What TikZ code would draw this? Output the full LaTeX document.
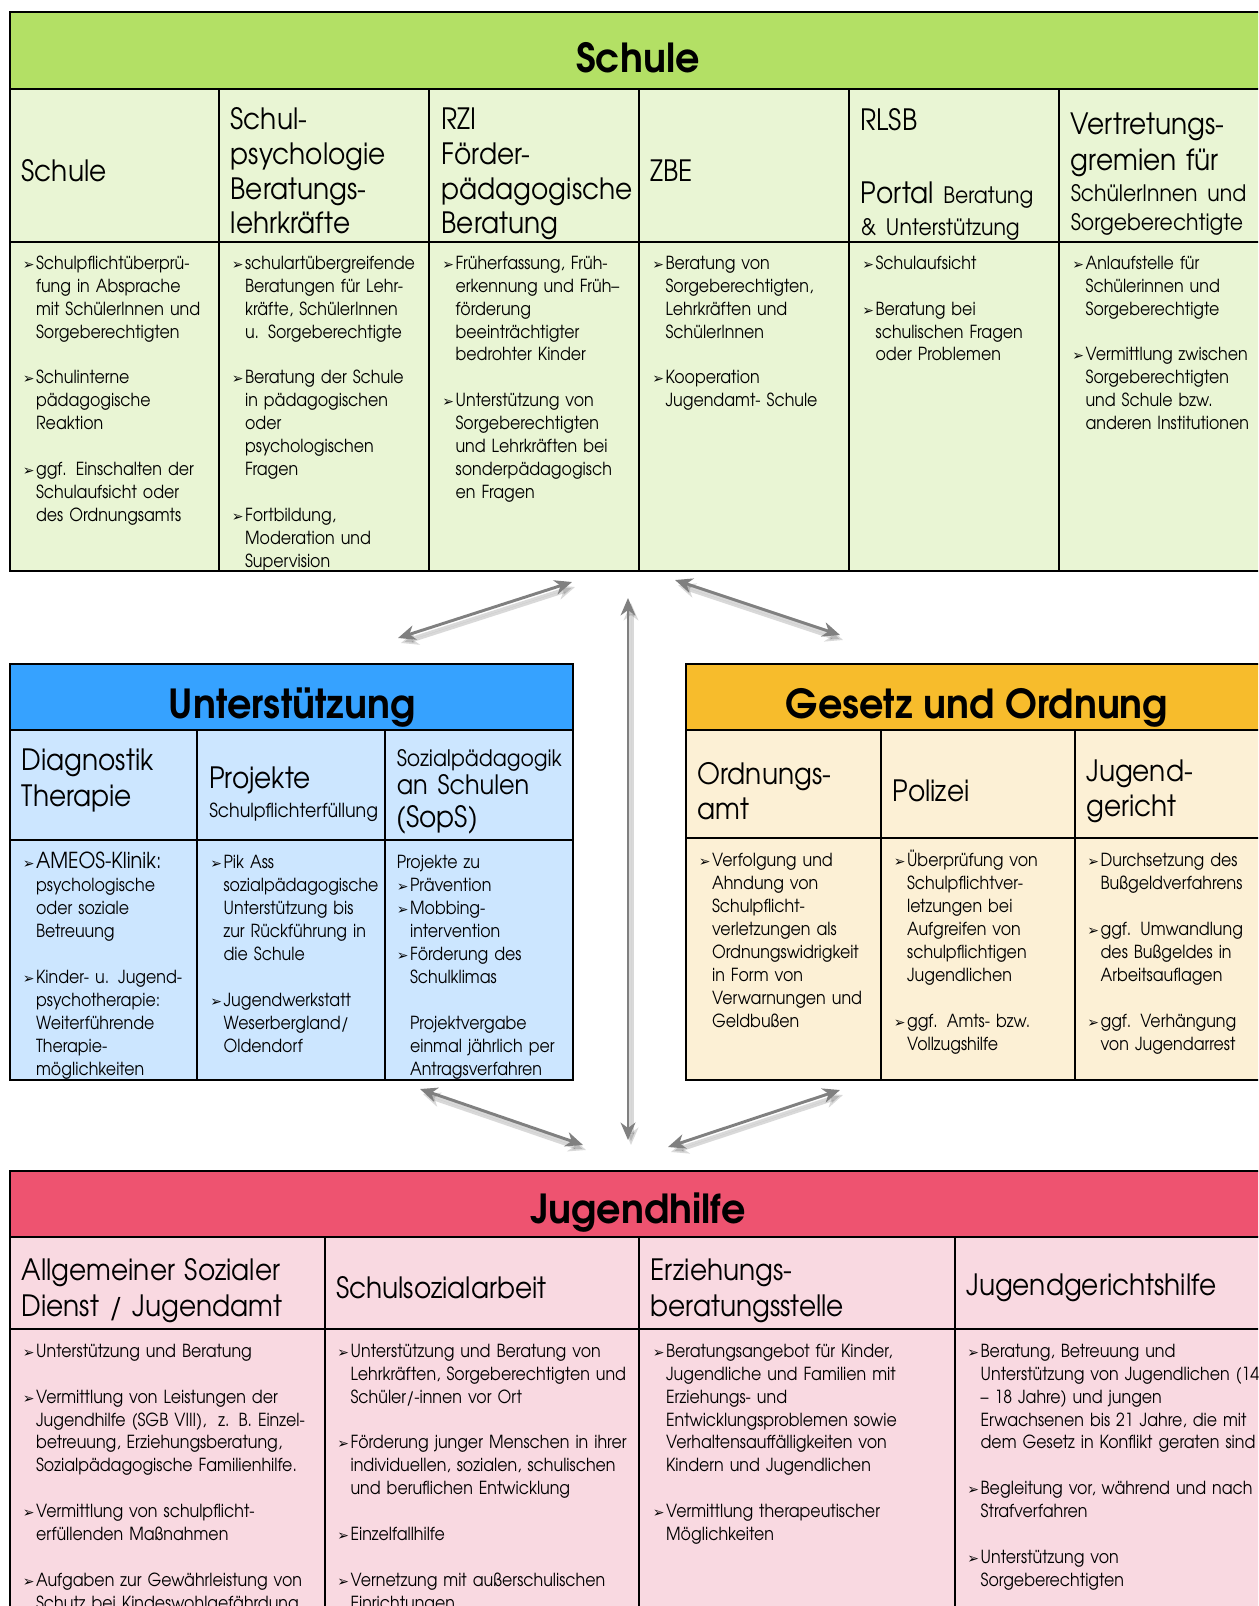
\documentclass[tikz,border=0pt]{standalone}
\usepackage{fontspec}
\setmainfont{texgyreadventor}[Extension=.otf, UprightFont=*-regular, BoldFont=*-bold, ItalicFont=*-italic, BoldItalicFont=*-bolditalic, FakeStretch=0.9, WordSpace=0.9]
\newfontfamily\titlefont{texgyreadventor}[Extension=.otf, UprightFont=*-bold, FakeStretch=0.955]
\newfontfamily\cellfont{texgyreadventor}[Extension=.otf, UprightFont=*-regular, FakeStretch=0.88, WordSpace=0.8]
\newfontfamily\dejavu{DejaVu Sans}
\usepackage{xcolor}
\usetikzlibrary{arrows.meta}
\definecolor{schulhead}{HTML}{B3E065}
\definecolor{schulcell}{HTML}{E9F5D4}
\definecolor{unterhead}{HTML}{36A2FF}
\definecolor{untercell}{HTML}{CCE6FF}
\definecolor{gesetzhead}{HTML}{F7BC2C}
\definecolor{gesetzcell}{HTML}{FCF0D5}
\definecolor{jugendhead}{HTML}{EE5370}
\definecolor{jugendcell}{HTML}{F9D9E1}
\definecolor{arrowgray}{HTML}{808080}
\newlength{\bulwd}
\setlength{\bulwd}{10pt}
\newcommand{\bul}{{\dejavu\fontsize{10.5}{10.5}\selectfont ➢}}
\newcommand{\nxt}{\newline}
\newcommand{\itm}{\par\hangindent=\bulwd\hangafter=1\noindent\strut\makebox[\bulwd][l]{\bul}}
\newcommand{\itmflat}{\par\noindent\strut}
\newcommand{\itmhang}{\par\hangindent=\bulwd\hangafter=0\noindent\strut}
\newcommand{\gap}{\par\vspace{\baselineskip}}
\newcommand{\smallhead}{\fontsize{17}{20}\selectfont}

\begin{document}
\begin{tikzpicture}[x=0.75pt, y=-0.75pt,
  boxline/.style={line width=1.5pt},
  cellline/.style={line width=1pt},
  title/.style={anchor=base, font=\titlefont\fontsize{30}{34}\selectfont},
  head/.style={anchor=west, inner sep=0pt, text width=200pt, align=left, font=\fontsize{22}{26}\selectfont},
  cell/.style={anchor=north west, inner sep=0pt, text width=250pt, align=left, font=\cellfont\fontsize{13.5}{17.2}\selectfont},
  twoway/.style={{Stealth[length=13pt,width=11pt,inset=4pt]}-{Stealth[length=13pt,width=11pt,inset=4pt]}, line width=2.2pt, draw=arrowgray, fill=arrowgray},
  twowayshade/.style={twoway, draw=black, fill=black, opacity=.15, line width=4pt, transform canvas={shift={(3,5)}}}
]
\useasboundingbox (0,0) rectangle (1258,1606);
\clip (0,0) rectangle (1258,1606);

% Schule
\fill[schulcell] (10,12) rectangle (1268,571);
\fill[schulhead] (10,12) rectangle (1268,89);
\draw[cellline] (10,89) -- (1268,89) (10,242) -- (1268,242);
\foreach \x in {219,429,639,849,1059} \draw[cellline] (\x,89) -- (\x,571);
\draw[boxline] (10,12) rectangle (1268,571);
\node[title] (schule) at (638,72) {Schule};

\node[head] (s1h) at (21.5,171) {Schule};
\node[head] (s2h) at (230.5,171) {Schul-\par psychologie\par Beratungs-\par lehrkräfte\par};
\node[head] (s3h) at (441.5,174) {RZI\par Förder-\par pädagogische\par Beratung\par};
\node[head] (s4h) at (650.5,171) {ZBE};
\node[head] (s5h) at (860.5,120) {RLSB};
\node[head] (s5g) at (860.5,211) {Portal {\smallhead Beratung}\par\fontsize{17}{23.8}\selectfont\& Unterstützung\par};
\node[head] (s6h) at (1070.5,174) {Vertretungs-\par\fontsize{22}{27}\selectfont gremien für\par\fontsize{17}{23}\selectfont SchülerInnen und\par\fontsize{17}{22}\selectfont Sorgeberechtigte\par};

\node[cell] (s1b) at (22.5,246) {\itm Schulpflichtüberprü-\nxt fung in Absprache\nxt mit SchülerInnen und\nxt Sorgeberechtigten
\gap\itm Schulinterne\nxt pädagogische\nxt Reaktion
\gap\itm ggf. Einschalten der\nxt Schulaufsicht oder\nxt des Ordnungsamts\par};
\node[cell] (s2b) at (231.5,246) {\itm schulartübergreifende\nxt Beratungen für Lehr-\nxt kräfte, SchülerInnen\nxt u. Sorgeberechtigte
\gap\itm Beratung der Schule\nxt in pädagogischen\nxt oder\nxt psychologischen\nxt Fragen
\gap\itm Fortbildung,\nxt Moderation und\nxt Supervision\par};
\node[cell] (s3b) at (442,246) {\itm Früherfassung, Früh-\nxt erkennung und Früh–\nxt förderung\nxt beeinträchtigter\nxt bedrohter Kinder
\gap\itm Unterstützung von\nxt Sorgeberechtigten\nxt und Lehrkräften bei\nxt sonderpädagogisch\nxt en Fragen\par};
\node[cell] (s4b) at (652,246) {\itm Beratung von\nxt Sorgeberechtigten,\nxt Lehrkräften und\nxt SchülerInnen
\gap\itm Kooperation\nxt Jugendamt- Schule\par};
\node[cell] (s5b) at (862,246) {\itm Schulaufsicht
\gap\itm Beratung bei\nxt schulischen Fragen\nxt oder Problemen\par};
\node[cell] (s6b) at (1072,246) {\itm Anlaufstelle für\nxt Schülerinnen und\nxt Sorgeberechtigte
\gap\itm Vermittlung zwischen\nxt Sorgeberechtigten\nxt und Schule bzw.\nxt anderen Institutionen\par};

% Unterstuetzung
\fill[untercell] (10,664) rectangle (573,1080);
\fill[unterhead] (10,664) rectangle (573,730);
\draw[cellline] (10,730) -- (573,730) (10,840) -- (573,840);
\foreach \x in {197,385} \draw[cellline] (\x,730) -- (\x,1080);
\draw[boxline] (10,664) rectangle (573,1080);
\node[title] (unter) at (292,718) {Unterstützung};

\node[head, font=\fontsize{22}{27}\selectfont] (u1h) at (21.5,780) {Diagnostik\par Therapie\par};
\node[head] (u2h) at (209,794) {Projekte\par\fontsize{14.5}{22}\selectfont Schulpflichterfüllung\par};
\node[head] (u3h) at (396.5,792) {\smallhead Sozialpädagogik\par\fontsize{20}{20.8}\selectfont an Schulen\par\fontsize{22}{24.6}\selectfont (SopS)\par};

\node[cell] (u1b) at (22.5,845.5) {\itm{\fontsize{16.5}{17.2}\selectfont AMEOS-Klinik:}\nxt psychologische\nxt oder soziale\nxt Betreuung
\gap\itm Kinder- u. Jugend-\nxt psychotherapie:\nxt Weiterführende\nxt Therapie-\nxt möglichkeiten\par};
\node[cell] (u2b) at (210,845.5) {\itm Pik Ass\nxt sozialpädagogische\nxt Unterstützung bis\nxt zur Rückführung in\nxt die Schule
\gap\itm Jugendwerkstatt\nxt Weserbergland/\nxt Oldendorf\par};
\node[cell] (u3b) at (396.5,845.5) {\itmflat Projekte zu
\itm Prävention
\itm Mobbing-\nxt intervention
\itm Förderung des\nxt Schulklimas
\gap\itmhang Projektvergabe\nxt einmal jährlich per\nxt Antragsverfahren\par};

% Gesetz und Ordnung
\fill[gesetzcell] (686,664) rectangle (1268,1080);
\fill[gesetzhead] (686,664) rectangle (1268,730);
\draw[cellline] (686,730) -- (1268,730) (686,838) -- (1268,838);
\foreach \x in {881,1075} \draw[cellline] (\x,730) -- (\x,1080);
\draw[boxline] (686,664) rectangle (1268,1080);
\node[title] (gesetz) at (977,718) {Gesetz und Ordnung};

\node[head] (g1h) at (697.5,791) {Ordnungs-\par amt\par};
\node[head] (g2h) at (892.5,791) {Polizei};
\node[head] (g3h) at (1086,791) {Jugend-\par gericht\par};

\node[cell] (g1b) at (698.5,843.5) {\itm Verfolgung und\nxt Ahndung von\nxt Schulpflicht-\nxt verletzungen als\nxt Ordnungswidrigkeit\nxt in Form von\nxt Verwarnungen und\nxt Geldbußen\par};
\node[cell] (g2b) at (893.5,843.5) {\itm Überprüfung von\nxt Schulpflichtver-\nxt letzungen bei\nxt Aufgreifen von\nxt schulpflichtigen\nxt Jugendlichen
\gap\itm ggf. Amts- bzw.\nxt Vollzugshilfe\par};
\node[cell] (g3b) at (1087,843.5) {\itm Durchsetzung des\nxt Bußgeldverfahrens
\gap\itm ggf. Umwandlung\nxt des Bußgeldes in\nxt Arbeitsauflagen
\gap\itm ggf. Verhängung\nxt von Jugendarrest\par};

% Jugendhilfe
\fill[jugendcell] (10,1171) rectangle (1268,1620);
\fill[jugendhead] (10,1171) rectangle (1268,1237);
\draw[cellline] (10,1237) -- (1268,1237) (10,1329) -- (1268,1329);
\foreach \x in {325,639,955} \draw[cellline] (\x,1237) -- (\x,1620);
\draw[boxline] (10,1171) rectangle (1268,1620);
\node[title] (jugend) at (638,1223) {Jugendhilfe};

\node[head, font=\fontsize{22}{27}\selectfont] (j1h) at (21.5,1291) {Allgemeiner Sozialer\par Dienst / Jugendamt\par};
\node[head] (j2h) at (336,1288) {Schulsozialarbeit};
\node[head, font=\fontsize{22}{27}\selectfont] (j3h) at (650.5,1291) {Erziehungs-\par beratungsstelle\par};
\node[head] (j4h) at (966,1288) {Jugendgerichtshilfe};

\node[cell] (j1b) at (22.5,1334) {\itm Unterstützung und Beratung
\gap\itm Vermittlung von Leistungen der\nxt Jugendhilfe (SGB VIII), \ z. B. Einzel-\nxt betreuung, Erziehungsberatung,\nxt Sozialpädagogische Familienhilfe.
\gap\itm Vermittlung von schulpflicht-\nxt erfüllenden Maßnahmen
\gap\itm Aufgaben zur Gewährleistung von\nxt Schutz bei Kindeswohlgefährdung\par};
\node[cell] (j2b) at (337,1334) {\itm Unterstützung und Beratung von\nxt Lehrkräften, Sorgeberechtigten und\nxt Schüler/-innen vor Ort
\gap\itm Förderung junger Menschen in ihrer\nxt individuellen, sozialen, schulischen\nxt und beruflichen Entwicklung
\gap\itm Einzelfallhilfe
\gap\itm Vernetzung mit außerschulischen\nxt Einrichtungen\par};
\node[cell] (j3b) at (652.5,1334) {\itm Beratungsangebot für Kinder,\nxt Jugendliche und Familien mit\nxt Erziehungs- und\nxt Entwicklungsproblemen sowie\nxt Verhaltensauffälligkeiten von\nxt Kindern und Jugendlichen
\gap\itm Vermittlung therapeutischer\nxt Möglichkeiten\par};
\node[cell] (j4b) at (967,1334) {\itm Beratung, Betreuung und\nxt Unterstützung von Jugendlichen (14\nxt – 18 Jahre) und jungen\nxt Erwachsenen bis 21 Jahre, die mit\nxt dem Gesetz in Konflikt geraten sind
\gap\itm Begleitung vor, während und nach\nxt Strafverfahren
\gap\itm Unterstützung von\nxt Sorgeberechtigten\par};

% arrows between the blocks
\coordinate (su-a) at (398,638);  \coordinate (su-b) at (572,582);
\coordinate (sg-a) at (675,580);  \coordinate (sg-b) at (840,635);
\coordinate (sj-a) at (628,598);  \coordinate (sj-b) at (628,1140);
\coordinate (uj-a) at (420,1089); \coordinate (uj-b) at (583,1145);
\coordinate (gj-a) at (668,1147); \coordinate (gj-b) at (840,1090);
\foreach \a/\b in {su-a/su-b, sg-a/sg-b, sj-a/sj-b, uj-a/uj-b, gj-a/gj-b}{
  \draw[twowayshade] (\a) -- (\b);
  \draw[twoway] (\a) -- (\b);
}
\end{tikzpicture}
\end{document}
